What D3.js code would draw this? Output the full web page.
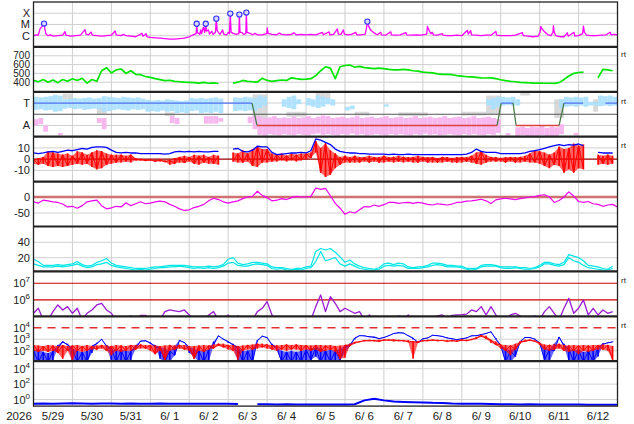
<!DOCTYPE html>
<html>
<head>
<meta charset="utf-8">
<script src="https://cdn.jsdelivr.net/npm/d3@7"></script>
<style>
  body { margin: 0; background: #fff; }
  text { font-family: "Liberation Sans", Arial, sans-serif; fill: #222; }
</style>
</head>
<body>
<svg id="chart" width="634" height="424"></svg>
<script>
// time axis: hours since 2026-05-29 00:00, 15 days
const dayLabels = ["5/29","5/30","5/31","6/ 1","6/ 2","6/ 3","6/ 4","6/ 5","6/ 6","6/ 7","6/ 8","6/ 9","6/10","6/11","6/12"];
const yearLabel = "2026";

// X-ray flux [hour, W/m2]
const xray = [[0,1.0e-6],[1.5,1.2e-6],[3,1.1e-6],[4.0,4e-6],[5.2,6.5e-6],[6.5,1.2e-5],[7.0,4e-6],[7.7,1.4e-6],[9,1.0e-6],[10.5,1.2e-6],[12,9e-7],[15,1.0e-6],[18,1.1e-6],[19.4,2.3e-6],[20,1.1e-6],[23,9e-7],[26,1.0e-6],[29,1.1e-6],[31.7,3.5e-6],[32.4,1.4e-6],[34,1.2e-6],[35.5,2.1e-6],[36.3,1.1e-6],[39,1.0e-6],[42,9e-7],[45,1.0e-6],[48,1.1e-6],[50.3,2.6e-6],[51,1.2e-6],[54,1.0e-6],[55.5,1.3e-6],[57,1.0e-6],[60,9e-7],[63,8e-7],[66.9,1.6e-6],[67.5,9e-7],[69.4,1.5e-6],[70,8e-7],[72,7e-7],[75,6.5e-7],[78,6e-7],[81,5.5e-7],[84,5e-7],[87,5e-7],[90,5.5e-7],[93,6e-7],[96,8e-7],[98,1.1e-6],[100.3,1.5e-6],[100.6,1.15e-5],[101,2e-6],[102.5,1.3e-6],[103.1,3.3e-6],[103.6,1.5e-6],[104.7,5.7e-6],[105.5,2e-6],[106.2,1.15e-5],[106.6,2.5e-6],[107.8,3.3e-6],[108.5,1.4e-6],[109.9,2.5e-6],[110.6,1.3e-6],[112.2,2e-6],[112.7,3.3e-5],[113.2,3e-6],[113.9,2e-6],[115,1.3e-6],[116.6,3.3e-6],[117.2,1.4e-6],[119,1.2e-6],[120.1,2e-6],[120.8,1.5e-6],[121.3,9.3e-5],[121.8,2e-6],[123.2,1.6e-6],[125,1.3e-6],[126.6,1.5e-6],[126.9,7.6e-5],[127.3,2e-6],[128.4,2e-6],[129.5,1.3e-6],[130.9,1.5e-6],[131.2,1.15e-4],[131.6,2e-6],[133.5,1.6e-6],[135,1.2e-6],[136.6,1.6e-6],[138,1.2e-6],[141,1.2e-6],[143.8,1.5e-6],[144.1,5e-6],[144.6,1.6e-6],[147,1.3e-6],[150,1.2e-6],[151.5,1.7e-6],[153,1.3e-6],[156,1.2e-6],[159,1.3e-6],[160.5,1.8e-6],[162,1.2e-6],[165,1.3e-6],[168,1.2e-6],[171,1.3e-6],[174,1.2e-6],[178.1,2e-6],[178.6,1.2e-6],[182.2,2.2e-6],[182.7,1.2e-6],[185,1.3e-6],[187.3,4e-6],[187.9,1.4e-6],[189.5,1.3e-6],[191,3.3e-6],[191.6,1.4e-6],[194,1.2e-6],[196,1.3e-6],[198.6,2e-6],[199.2,1.2e-6],[202,1.2e-6],[204.5,1.4e-6],[205.3,5e-6],[205.8,1.8e-5],[206.8,6e-6],[208,3e-6],[209.5,2e-6],[210.6,1.5e-6],[212,1.2e-6],[214,2e-6],[214.5,1.2e-6],[217,1.1e-6],[220.2,2.2e-6],[220.7,1.2e-6],[223,1.1e-6],[226,1.2e-6],[229.5,1.9e-6],[230,1.2e-6],[233,1.1e-6],[236,1.2e-6],[239,1.1e-6],[242.4,1.4e-6],[242.8,6.6e-6],[243.8,3e-6],[245,1.5e-6],[245.9,2e-6],[246.5,1.2e-6],[249,1.1e-6],[252,1.5e-6],[252.5,1.1e-6],[255,1.0e-6],[258,1.0e-6],[261,1.1e-6],[264,1.0e-6],[267.5,3e-6],[268,1.4e-6],[269.5,2.8e-6],[270,1.2e-6],[273,1.1e-6],[276,1.0e-6],[279,1.1e-6],[282,1.1e-6],[285,2.4e-6],[285.5,1.1e-6],[288,1.0e-6],[291,1.0e-6],[294,1.0e-6],[297,1.1e-6],[301.4,1.9e-6],[301.9,1.0e-6],[305,9e-7],[308,8e-7],[311,9e-7],[312.3,2e-6],[312.7,6.6e-6],[313.5,4e-6],[315,2.2e-6],[317.2,1.2e-6],[319,1.0e-6],[320.2,2e-6],[320.5,8e-6],[321,2e-6],[322,1.0e-6],[325,8e-7],[327,8e-7],[329.1,1.8e-6],[329.6,9e-7],[333.2,2e-6],[333.7,9e-7],[336,1.0e-6],[338.5,1.5e-6],[339,7e-6],[339.6,2e-6],[341,1.1e-6],[344,1.0e-6],[347,1.0e-6],[350,1.1e-6],[353,1.2e-6],[355.5,2e-6],[356,1.2e-6],[358,1.3e-6],[360,1.2e-6]];
const flares = [[6.5,1.2e-5],[100.6,1.15e-5],[106.2,1.15e-5],[112.7,3.3e-5],[121.3,9.3e-5],[126.9,7.6e-5],[131.2,1.15e-4],[205.8,1.8e-5]];

// 3-hourly series (120 samples from 00:00 5/29)
const swSpeed = [420,405,430,400,425,395,430,410,
  440,420,445,390,430,410,530,565,
  505,540,550,500,530,490,485,465,
  455,440,430,418,422,410,405,400,
  398,395,390,398,388,392,385,null,
  null,390,400,420,410,405,400,445,
  420,410,418,425,420,450,440,432,
  435,440,475,530,575,560,440,575,
  590,595,570,580,565,560,555,560,
  555,545,540,540,545,540,530,525,
  515,510,505,495,490,488,485,475,
  470,462,460,455,450,448,450,440,
  428,418,410,405,398,395,392,390,
  390,388,388,386,395,430,470,500,
  510,515,null,null,450,545,540,530];

const bt = [5.5,5,5.5,6.5,7,6,7,8,
  7.5,8.5,9.5,9,10.5,11,11,10.5,
  8,6,5.5,6,5.5,5.5,5,5,
  5,5,5,4.5,5,6.5,7,6.5,
  7,6.5,7,6.5,6.5,7,7,null,
  null,9,9.5,7,6.5,8,11.5,11,
  11,6,4,4.5,5,5.5,5.5,6,
  5.5,7.5,18,17,15,13,9,7,
  6,5.5,5.5,5,5,4.5,4.5,4.5,
  4.5,4,4.5,4,4,4.5,4,4,
  4,4,4,4,4,4,4,4,
  4,4.5,6,9,7,6,6,6,
  5,5,5,5,5,5.5,7,7.5,
  8.5,9.5,11,12,13,12,13,12.5,
  13.5,12,null,null,6,5.5,5.5,5.5];

const bzHi = [0,1,2,7,6,5,4,5,
  3,7,6,4,6,8,7,5,
  4,4,4,3,4,1,0,0,
  -0.5,-0.5,-0.5,-1,-1,1,2,3,
  2,4,3,4,2,4,3,null,
  null,6,5,8,5,9,11,9,
  9,5,4,5,3,5,4,5,
  5,6,16,10,14,8,5,2,
  3,2,3,2,2,3,2,2,
  3,2,2,3,2,2,2,3,
  2,2,2,1,2,2,1,2,
  2,2,3,6,7,4,2,2,
  1,2,2,2,2,3,5,8,
  7,6,4,6,11,9,10,14,
  12,13,null,null,4,3,4,3];
const bzLo = [-4,-5,-4,-6,-7,-6,-7,-6,
  -5,-4,-5,-4,-7,-9,-8,-5,
  -4,-3,-3,-2,-3,-1,-1.5,-1.5,
  -1.5,-2,-2,-2.5,-5,-4,-3,-3.5,
  -2,-4,-5,-3,-4,-4,-5,null,
  null,-2,-3,-3,-2,-6,-7,-3,
  -3,-2,-2,-1,-2,-1,-2,-1,
  0,1,6,-12,-16,-14,-8,-5,
  -3,-3,-3,-3,-2,-3,-2,-3,
  -3,-2,-3,-2,-3,-2,-3,-3,
  -2,-3,-3,-3,-3,-2,-3,-3,
  -3,-2,-3,-4,-5,-3,-2,-2,
  -2,-3,-2,-3,-3,-2,-3,-3,
  -4,-6,-8,-5,-6,-12,-9,-12,
  -8,-9,null,null,-5,-4,-5,-4];

const dst = [-15,-19,-10,-12,-15,-17,-22,-31,
  -29,-35,-27,-15,-12,-10,-27,-37,
  -34,-29,-31,-18,-27,-21,-15,-21,
  -19,-15,-13,-15,-23,-29,-37,-42,
  -40,-33,-29,-23,-12,-4,-8,-15,
  -19,-15,-12,-5,0,2,18,5,
  -2,-12,-10,-5,-8,-2,2,0,
  0,2,28,24,27,4,-20,-35,
  -54,-46,-50,-40,-30,-31,-25,-29,
  -24,-17,-17,-20,-18,-17,-20,-17,
  -19,-23,-25,-21,-23,-25,-22,-17,
  -16,-13,-12,-10,-7,-12,-20,-9,
  -6,-4,-6,-8,-5,-3,0,1,
  5,7,0,-17,-11,0,16,3,
  -14,-17,-14,-21,-23,-29,-25,-23,
  -31];

const cyanA = [12,10,8,8,8,9,8,9,
  10,12,9,7,8,11,12,14,
  10,8,7,6,5,4,5,4,
  5,6,7,7,8,8,9,8,
  7,6,7,6,7,6,7,9,
  13,14,10,9,9,11,12,11,
  10,6,5,6,4,4,5,4,
  6,7,15,28,16,18,20,12,
  9,12,9,6,5,4,4,5,
  9,10,9,10,9,6,6,6,
  7,8,10,11,10,8,8,8,
  7,5,4,5,8,9,9,9,
  7,6,6,7,6,5,5,6,
  8,12,12,10,9,11,20,16,
  14,10,7,6,5,4,4,6];
const cyanB = [18,15,10,10,10,11,10,11,
  12,15,11,9,10,14,16,19,
  13,10,9,8,7,6,6,6,
  7,8,8,9,10,10,10,10,
  9,8,8,8,9,8,9,11,
  18,20,13,11,12,14,14,13,
  12,8,7,7,6,5,6,6,
  8,9,28,32,30,32,27,21,
  14,17,12,9,7,6,5,7,
  12,13,11,13,12,8,7,8,
  8,10,13,13,12,10,10,9,
  9,6,6,6,10,11,11,10,
  8,8,8,8,7,7,6,7,
  10,14,14,12,11,14,24,22,
  20,16,10,9,8,6,5,9];

// electron flux, log10
const elecExp = [5.2,5.5,4.8,4.8,5.3,5.7,5.4,5.6,
  5.2,5.5,4.8,5.2,5.4,5.7,5.8,5.4,
  5.2,4.8,4.8,4.8,5.05,4.8,5.08,5.08,
  4.8,4.8,4.8,5.3,5.4,5.35,5.3,5.4,
  5.1,4.8,4.8,4.8,5.1,5.3,4.8,4.8,
  5.1,4.8,5.05,4.8,4.8,4.8,5.3,5.5,
  5.9,5.1,4.8,4.8,4.8,4.8,4.8,4.8,
  4.8,4.8,5.6,6.3,5.3,6.2,5.8,5.3,
  5.5,5.35,5.2,5.3,4.8,5.1,4.8,4.8,
  4.8,4.8,4.8,5.05,4.8,5.1,4.8,4.8,
  4.8,4.8,4.8,5.05,5.1,4.8,5.08,5.1,
  5.12,5.15,5.4,5.3,5.6,5.1,5.6,5.1,
  4.8,4.8,5.1,5.2,5.05,4.8,4.8,5.05,
  4.8,5.3,5.6,5.2,4.8,5.5,6.1,5.2,
  5.5,6.0,5.1,5.5,5.1,5.4,5.2,5.3];

// particle flux, log10 (range lo / hi in each 3 h)
const blueLo = [1.0,1.0,1.0,1.0,1.2,2.2,2.7,2.5,
  1.0,1.0,1.0,1.0,1.8,2.6,2.95,2.4,
  1.0,1.0,1.0,1.0,1.2,2.2,2.75,2.85,
  2.6,2.3,1.3,1.0,1.0,1.6,2.85,2.7,
  1.8,1.5,1.0,1.0,1.0,2.5,3.25,3.0,
  2.7,2.5,1.0,1.0,1.0,1.0,2.8,3.25,
  3.1,2.5,2.0,1.0,1.0,1.0,1.0,1.0,
  1.0,1.2,1.5,1.0,1.0,1.0,1.0,1.2,
  1.8,2.4,3.0,3.3,3.25,3.2,3.1,3.05,
  3.1,3.3,3.45,3.55,3.5,3.3,3.0,2.7,
  3.0,3.1,3.3,3.3,3.2,3.1,3.0,2.95,
  3.0,3.1,3.25,3.3,3.35,3.5,3.6,3.0,
  2.3,1.0,1.0,1.5,2.7,3.15,3.1,3.0,
  2.6,1.2,1.0,2.0,3.1,2.4,1.0,1.0,
  1.0,1.0,1.0,1.0,1.5,2.55,2.65,2.75];
const blueHi = [2.0,2.1,1.9,1.8,2.0,2.5,2.8,2.6,
  2.2,2.0,1.9,2.0,2.4,2.7,3.0,2.5,
  2.2,2.0,2.1,2.0,2.0,2.5,2.85,2.9,
  2.7,2.5,2.3,2.2,2.0,2.4,2.9,2.75,
  2.3,2.2,2.0,2.0,2.1,2.8,3.3,3.05,
  2.8,2.6,2.3,2.0,2.0,2.2,2.9,3.3,
  3.15,2.6,2.3,2.0,1.9,2.0,1.9,2.0,
  2.1,2.2,2.3,2.2,2.0,2.1,2.0,2.2,
  2.4,2.6,3.1,3.35,3.3,3.25,3.2,3.1,
  3.15,3.35,3.5,3.6,3.55,3.35,3.1,2.8,
  3.05,3.15,3.35,3.35,3.25,3.15,3.05,3.0,
  3.05,3.15,3.3,3.35,3.4,3.55,3.65,3.1,
  2.5,2.2,2.0,2.3,2.8,3.2,3.15,3.05,
  2.7,2.3,2.1,2.6,3.2,2.6,2.2,2.0,
  2.1,1.9,2.0,2.1,2.3,2.65,2.7,2.8];
const redLo = [2.0,1.9,2.0,1.9,2.0,1.8,1.3,2.0,
  1.1,2.0,1.9,2.0,2.1,2.1,2.2,2.0,
  1.6,2.0,1.9,2.0,2.0,2.1,2.2,2.2,
  2.0,1.7,2.0,1.2,2.0,2.1,2.2,2.1,
  2.0,1.3,2.0,1.9,2.1,2.2,2.4,2.3,
  2.1,2.0,1.2,2.0,2.1,2.1,2.2,2.3,
  2.2,2.1,2.0,2.1,2.0,2.1,2.1,2.0,
  2.1,2.0,2.1,1.9,2.0,2.1,1.9,1.3,
  1.4,2.4,2.6,2.75,2.8,2.85,2.8,2.8,
  2.85,2.9,2.8,2.85,2.8,2.75,1.3,2.7,
  2.8,2.85,2.85,2.85,2.85,2.8,2.8,2.8,
  2.85,2.85,2.9,3.05,3.2,3.05,2.7,2.5,
  2.2,2.0,1.6,2.1,2.6,2.8,2.85,2.8,
  2.5,2.1,2.0,2.1,2.2,2.0,1.9,2.0,
  1.7,2.0,1.9,2.0,2.1,2.1,2.0,1.2];
const redHi = [2.5,2.45,2.4,2.5,2.45,2.4,2.5,2.4,
  2.45,2.5,2.4,2.5,2.4,2.45,2.5,2.45,
  2.4,2.5,2.45,2.4,2.5,2.5,2.55,2.5,
  2.5,2.45,2.4,2.45,2.5,2.45,2.5,2.5,
  2.4,2.4,2.45,2.5,2.45,2.55,2.6,2.6,
  2.5,2.5,2.4,2.45,2.5,2.55,2.6,2.6,
  2.55,2.5,2.45,2.5,2.55,2.5,2.55,2.5,
  2.5,2.45,2.5,2.5,2.45,2.5,2.4,2.45,
  2.5,2.6,2.75,2.85,2.9,2.95,2.9,2.95,
  2.95,3.0,2.95,2.95,2.9,2.9,2.8,2.85,
  2.9,2.95,2.95,2.95,2.9,2.9,2.9,2.9,
  2.95,2.95,3.0,3.2,3.35,3.3,2.95,2.8,
  2.55,2.5,2.45,2.6,2.8,2.95,2.95,2.9,
  2.7,2.55,2.5,2.55,2.6,2.5,2.45,2.5,
  2.45,2.5,2.45,2.5,2.5,2.55,2.5,2.4];

// 6-hourly log10 series for the bottom panel (61 samples)
const lowExp = [-0.52,-0.5,-0.52,-0.5,-0.48,-0.5,-0.52,-0.5,-0.5,-0.52,
  -0.5,-0.53,-0.52,-0.5,-0.52,-0.55,-0.52,-0.55,-0.53,-0.55,
  -0.55,-0.56,null,-0.6,-0.6,-0.62,-0.6,-0.62,-0.63,-0.63,
  -0.62,-0.63,-0.63,-0.6,-0.1,0.1,-0.1,-0.25,-0.3,-0.33,
  -0.36,-0.42,-0.45,-0.5,-0.52,-0.55,-0.55,-0.58,-0.6,-0.6,
  -0.62,-0.6,-0.62,-0.63,-0.62,-0.63,-0.63,-0.65,-0.65,-0.65,-0.65];

// IMF sector: [hour, angle]; scattered angle ranges [hour, lo, hi] per 3 h
const sectorLine = [[0,270],[134.7,270],[137.8,90],[285.8,90],[288.3,270],[295.6,270],[297.5,90],[324,90],[327,270],[338.8,270],[338.9,null],[352.6,270],[360,270]];
const towardBand = [[0,215,320],[3,220,315],[6,210,320],[9,215,325],[12,200,335],[15,205,330],[18,225,300],[21,230,305],
  [24,220,310],[27,225,305],[30,215,310],[33,220,315],[36,225,305],[39,220,310],[42,200,325],[45,205,320],
  [48,215,315],[51,220,310],[54,215,320],[57,210,315],[60,220,310],[63,215,315],[66,220,305],
  [69,200,295],[72,205,290],[75,200,295],[78,210,290],[81,200,300],[84,205,295],
  [87,190,290],[90,195,285],[93,190,290],[96,205,310],[99,210,305],
  [102,190,310],[105,195,305],[108,190,310],[111,200,315],[114,190,305],
  [123,205,315],[126,210,310],[129,205,320],[132,210,315],[135,205,310],
  [138,230,330],[141,250,320],[153,240,300],[156,230,320],[159,220,330],[162,260,300],[168,250,310],[171,240,300],
  [174,230,330],[177,240,320],[180,260,310],[183,250,300],[192,210,240],[195,220,250],[216,240,260],
  [279,250,300],[282,220,310],[285,240,320],[288,250,320],[291,255,315],[294,250,320],[297,250,300],
  [324,230,300],[327,240,320],[330,245,315],[333,240,320],[336,250,315],[339,240,320],[342,250,280],[345,250,280],
  [348,245,330],[351,250,325],[354,245,330],[357,250,320]];
const awayBand = [[0,90,140],[3,100,150],[6,40,90],[15,10,30],[39,110,150],[42,60,150],[84,110,165],[87,100,150],
  [105,105,165],[108,105,165],[111,105,165],[114,120,150],[132,110,160],[135,60,170],
  [138,15,160],[141,10,150],[144,20,155],[147,15,165],[150,10,150],[153,20,155],[156,15,150],[159,10,160],
  [162,20,150],[165,15,155],[168,10,165],[171,20,150],[174,25,160],[177,15,170],[180,20,165],[183,15,150],
  [186,10,155],[189,20,160],[192,15,150],[195,25,155],[198,15,165],[201,20,150],[204,10,155],[207,15,160],
  [210,20,150],[213,15,155],[216,10,165],[219,20,150],[222,15,155],[225,20,160],[228,15,150],[231,10,155],
  [234,20,165],[237,15,150],[240,25,155],[243,15,160],[246,20,150],[249,10,155],[252,15,165],[255,20,150],
  [258,15,155],[261,10,160],[264,20,150],[267,15,155],[270,20,165],[273,15,150],[276,10,155],[279,20,160],
  [282,15,150],[285,30,140],[291,10,30],[297,5,75],[300,10,80],[303,5,70],[306,0,80],[309,5,75],
  [312,10,85],[315,5,70],[318,0,80],[321,5,75],[324,20,100],[333,10,30]];
const grayBand = [[18,300,345],[21,300,345],[39,180,230],[42,180,230],[81,165,195],[84,165,195],
  [135,150,340],[138,150,340],[141,150,340],[156,160,200],[159,160,200],[162,160,200],[165,160,200],
  [174,300,350],[177,300,350],[180,300,350],[198,170,200],[201,170,200],[204,170,200],
  [225,165,195],[228,165,195],[231,165,195],[234,165,195],[237,165,195],[240,165,195],
  [264,170,200],[267,170,200],[270,170,200],[273,170,200],[276,170,200],[279,180,330],[282,180,330],[285,180,330],
  [300,330,355],[303,330,355],[321,150,300],[324,150,300],[345,200,300]];

// ---------------------------------------------------------------
const svg = d3.select("#chart");
const left = 33.5, right = 617.5;
const tops = [2, 46.9, 91.8, 136.7, 181.6, 226.5, 271.4, 316.3, 361.2, 406.1];
const bot = k => tops[k + 1];

const x = d3.scaleLinear().domain([0, 360]).range([left, right]);

const yX = d3.scaleLog().domain([1e-7, 1e-3]).range([bot(0), tops[0]]);
const ySw = d3.scaleLinear().domain([291, 801]).range([bot(1), tops[1]]);
const ySec = d3.scaleLinear().domain([0, 360]).range([bot(2), tops[2]]);
const yB = d3.scaleLinear().domain([-20, 20]).range([bot(3), tops[3]]);
const yDst = d3.scaleLinear().domain([-92, 48]).range([bot(4), tops[4]]);
const yCy = d3.scaleLinear().domain([2.2, 60.5]).range([bot(5), tops[5]]);
const yEl = d3.scaleLog().domain([10 ** 5.02, 10 ** 7.71]).range([bot(6), tops[6]]);
const yPr = d3.scaleLog().domain([10 ** 1.09, 10 ** 4.99]).range([bot(7), tops[7]]);
const yLo = d3.scaleLog().domain([10 ** -0.84, 10 ** 4.97]).range([bot(8), tops[8]]);

const defs = svg.append("defs");
const grid = svg.append("g");
const panels = d3.range(9).map(k => {
  defs.append("clipPath").attr("id", "clip" + k)
    .append("rect").attr("x", left).attr("y", tops[k])
    .attr("width", right - left).attr("height", bot(k) - tops[k]);
  return svg.append("g").attr("clip-path", `url(#clip${k})`);
});

// grid
d3.range(1, 15).forEach(d => {
  grid.append("line").attr("x1", x(d * 24)).attr("x2", x(d * 24))
    .attr("y1", tops[0]).attr("y2", tops[9]).attr("stroke", "#cfcfcf");
});
function hgrid(y, v) {
  grid.append("line").attr("x1", left).attr("x2", right)
    .attr("y1", y(v)).attr("y2", y(v)).attr("stroke", "#cfcfcf");
}
[1e-4, 1e-5, 1e-6].forEach(v => hgrid(yX, v));
[400, 500, 600, 700].forEach(v => hgrid(ySw, v));
[90, 270].forEach(v => hgrid(ySec, v));
[10, -10].forEach(v => hgrid(yB, v));
hgrid(yDst, -50);
[20, 40].forEach(v => hgrid(yCy, v));
[1e2, 1e3].forEach(v => hgrid(yPr, v));
[1, 1e2, 1e4].forEach(v => hgrid(yLo, v));

const indexed = (arr, step, f) => arr.map((v, i) => [i * step, v == null ? null : (f ? f(v) : v)]);
const pow10 = e => 10 ** e;
const id = v => v;

function drawLine(g, data, y, color, w) {
  return g.append("path").datum(data)
    .attr("fill", "none").attr("stroke", color).attr("stroke-width", w || 1)
    .attr("stroke-linejoin", "round")
    .attr("d", d3.line().defined(d => d[1] != null).x(d => x(d[0])).y(d => y(d[1])));
}
// noisy series: lo-hi envelope, a stick per sample and a zigzag through the samples
function drawNoisy(g, lo, hi, step, y, color, f) {
  const data = lo.map((v, i) => ({ h: i * step, lo: v == null ? null : f(v), hi: hi[i] == null ? null : f(hi[i]) }));
  g.append("path").datum(data)
    .attr("fill", color).attr("fill-opacity", 0.6).attr("stroke", "none")
    .attr("d", d3.area().defined(d => d.lo != null).x(d => x(d.h)).y0(d => y(d.lo)).y1(d => y(d.hi)));
  g.append("g").selectAll("line").data(data.filter(d => d.lo != null)).join("line")
    .attr("x1", d => x(d.h)).attr("x2", d => x(d.h))
    .attr("y1", d => y(d.lo)).attr("y2", d => y(d.hi))
    .attr("stroke", color).attr("stroke-width", 1.6);
  g.append("path").datum(data)
    .attr("fill", "none").attr("stroke", color).attr("stroke-width", 1)
    .attr("d", d3.line().defined(d => d.lo != null).x(d => x(d.h)).y((d, i) => y(i % 2 ? d.lo : d.hi)));
}

// 1: X-ray
drawLine(panels[0], xray, yX, "#ff00ff", 1.3);
panels[0].selectAll("circle").data(flares).join("circle")
  .attr("cx", d => x(d[0])).attr("cy", d => yX(d[1])).attr("r", 2.6)
  .attr("fill", "#d8d8ff").attr("stroke", "#3030ff").attr("stroke-width", 1.1);

// 2: solar wind speed
drawLine(panels[1], indexed(swSpeed, 3), ySw, "#00e600", 1.7);

// 3: sector
const bandRects = (data, fill, op) => panels[2].append("g").selectAll("rect").data(data).join("rect")
  .attr("x", d => x(d[0])).attr("width", x(3) - x(0))
  .attr("y", d => ySec(d[2])).attr("height", d => ySec(d[1]) - ySec(d[2]))
  .attr("fill", fill).attr("opacity", op);
bandRects(grayBand, "#cccccc", 0.75);
bandRects(awayBand, "#f5b0ec", 0.9);
bandRects(towardBand, "#a8e0ff", 0.9);
panels[2].append("line").attr("x1", left).attr("x2", right)
  .attr("y1", ySec(180)).attr("y2", ySec(180)).attr("stroke", "#555").attr("stroke-width", 1);
d3.pairs(sectorLine).forEach(([a, b]) => {
  if (a[1] == null || b[1] == null) return;
  const c = a[1] !== b[1] ? "#4a7a4a" : (a[1] > 180 ? "#5070f0" : "#e04040");
  drawLine(panels[2], [a, b], ySec, c, 1.3);
});

// 4: IMF
panels[3].append("line").attr("x1", left).attr("x2", right)
  .attr("y1", yB(0)).attr("y2", yB(0)).attr("stroke", "#990000").attr("stroke-width", 1.2);
drawNoisy(panels[3], bzLo, bzHi, 3, yB, "#ff0000", id);
drawLine(panels[3], indexed(bt, 3), yB, "#0000ff", 1.3);

// 5: Dst
panels[4].append("line").attr("x1", left).attr("x2", right)
  .attr("y1", yDst(0)).attr("y2", yDst(0)).attr("stroke", "#d07070").attr("stroke-width", 2.5);
drawLine(panels[4], indexed(dst, 3), yDst, "#ee00ee", 1.2);

// 6: cyan pair
drawLine(panels[5], indexed(cyanA, 3), yCy, "#00e6e6", 1.2);
drawLine(panels[5], indexed(cyanB, 3), yCy, "#00e6e6", 1.2);

// 7: electrons
[1e6, 1e7].forEach(v => panels[6].append("line").attr("x1", left).attr("x2", right)
  .attr("y1", yEl(v)).attr("y2", yEl(v)).attr("stroke", "#cc0000").attr("stroke-width", 1.2));
drawLine(panels[6], indexed(elecExp, 3, pow10), yEl, "#9a1ad0", 1.3);

// 8: particles
panels[7].append("line").attr("x1", left).attr("x2", right)
  .attr("y1", yPr(1e4)).attr("y2", yPr(1e4)).attr("stroke", "#e03030")
  .attr("stroke-width", 1.5).attr("stroke-dasharray", "8,6");
drawNoisy(panels[7], blueLo, blueHi, 3, yPr, "#0000ff", pow10);
drawNoisy(panels[7], redLo, redHi, 3, yPr, "#ff0000", pow10);

// 9: bottom
drawLine(panels[8], indexed(lowExp, 6, pow10), yLo, "#0000ff", 2);

// frame
const frame = svg.append("g");
tops.slice(1, 9).forEach(t => frame.append("line").attr("x1", left - 0.5).attr("x2", right)
  .attr("y1", t).attr("y2", t).attr("stroke", "#222").attr("stroke-width", 2.2));
frame.append("rect").attr("x", left).attr("y", tops[0]).attr("width", right - left)
  .attr("height", tops[9] - tops[0]).attr("fill", "none").attr("stroke", "#222").attr("stroke-width", 1.3);

// y labels
const lab = svg.append("g").attr("font-size", 11);
function yText(y, v, s, size) {
  lab.append("text").attr("x", 30).attr("y", y(v) + (size ? 3.5 : 4)).attr("text-anchor", "end")
    .attr("font-size", size || 11).text(s);
}
function yLog(y, v, e) {
  const t = lab.append("text").attr("x", 30).attr("y", y(v) + 4).attr("text-anchor", "end");
  t.append("tspan").text("10");
  t.append("tspan").attr("dy", -5).attr("font-size", 8).text(e);
}
yText(yX, 1e-4, "X"); yText(yX, 1e-5, "M"); yText(yX, 1e-6, "C");
[700, 600, 500, 400].forEach(v => yText(ySw, v, v, 10));
yText(ySec, 270, "T"); yText(ySec, 90, "A");
yText(yB, 10, "10"); yText(yB, 0, "0"); yText(yB, -10, "-10");
yText(yDst, 0, "0"); yText(yDst, -50, "-50");
yText(yCy, 40, "40"); yText(yCy, 20, "20");
yLog(yEl, 1e7, "7"); yLog(yEl, 1e6, "6");
yLog(yPr, 1e4, "4"); yLog(yPr, 1e3, "3"); yLog(yPr, 1e2, "2");
yLog(yLo, 1e4, "4"); yLog(yLo, 1e2, "2"); yLog(yLo, 1, "0");

// "rt" marks
[57, 104, 148, 283, 328].forEach(y => lab.append("text")
  .attr("x", 621).attr("y", y).attr("font-size", 8).attr("fill", "#333").text("rt"));

// x labels
lab.append("text").attr("x", 19).attr("y", 420).attr("text-anchor", "middle").attr("font-size", 11.5).text(yearLabel);
dayLabels.forEach((s, i) => lab.append("text")
  .attr("x", x(12 + 24 * i)).attr("y", 420).attr("text-anchor", "middle")
  .attr("font-size", 11.5).attr("xml:space", "preserve").text(s));
</script>
</body>
</html>
